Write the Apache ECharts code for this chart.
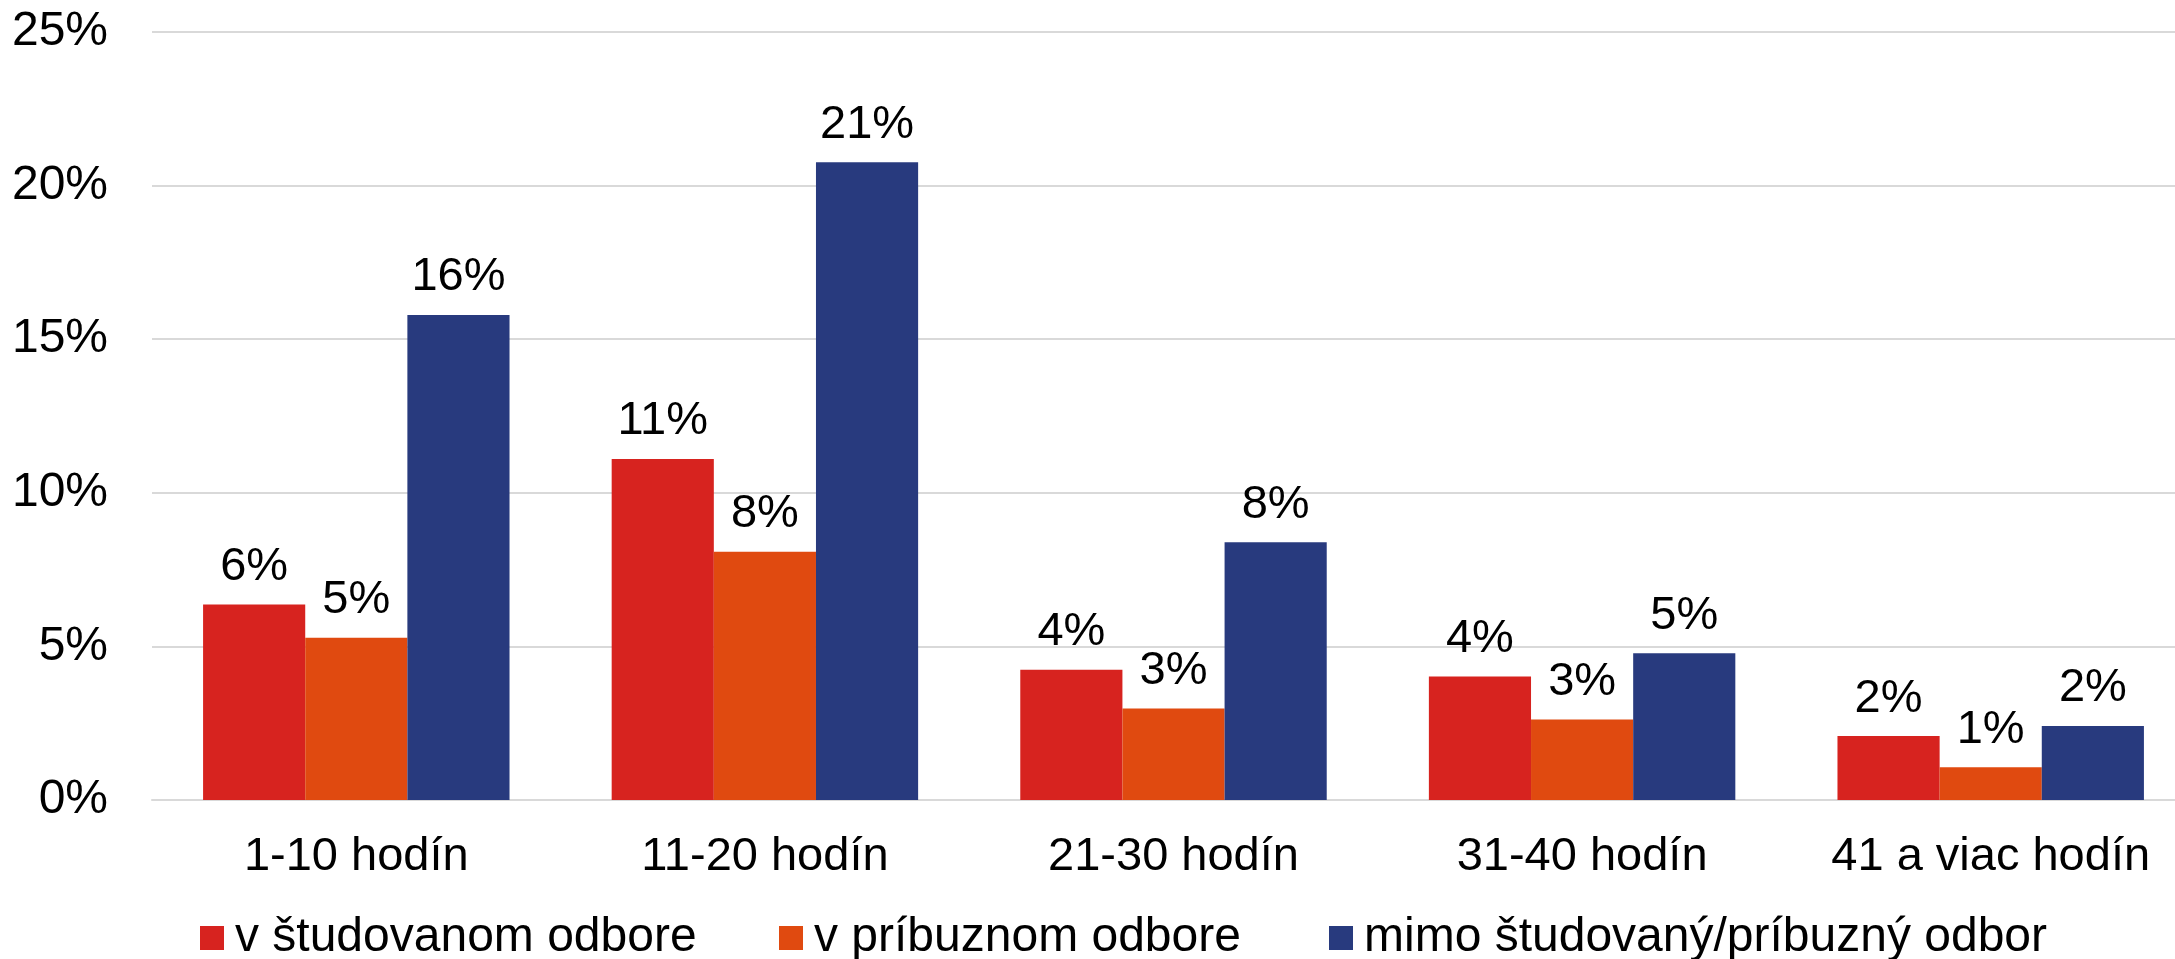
<!DOCTYPE html>
<html>
<head>
<meta charset="utf-8">
<script src="https://cdn.jsdelivr.net/npm/echarts@6/dist/echarts.min.js"></script>
<style>html,body{margin:0;padding:0;background:#fff}#c{width:2175px;height:959px}</style>
</head>
<body>
<div id="c"></div>
<script>
const categories = ['1-10 hodín', '11-20 hodín', '21-30 hodín', '31-40 hodín', '41 a viac hodín'];
const seriesNames = ['v študovanom odbore', 'v príbuznom odbore', 'mimo študovaný/príbuzný odbor'];
const studied = [6.36, 11.1, 4.24, 4.02, 2.08];
const related = [5.28, 8.08, 2.98, 2.62, 1.07];
const outside = [15.79, 20.76, 8.39, 4.78, 2.41];
const yTicks = [0, 5, 10, 15, 20, 25];
const colors = ['#D7231F', '#E04A10', '#283A7E'];

const font = 'Liberation Sans, Arial, sans-serif';
const chart = echarts.init(document.getElementById('c'));
const mk = (name, data, color) => ({
  name, type: 'bar', data, barGap: '0%', barCategoryGap: '25%',
  itemStyle: { color },
  label: { show: true, position: 'top', distance: 14, color: '#000', fontSize: 47, fontFamily: font,
    formatter: p => Math.round(p.value) + '%' }
});
const legendLefts = [195, 774, 1324];
chart.setOption({
  animation: false,
  textStyle: { fontFamily: font },
  grid: { left: 152, width: 2043, top: 32, bottom: 159, containLabel: false, outerBoundsMode: 'none' },
  legend: seriesNames.map((n, i) => ({
    left: legendLefts[i], top: 909, itemWidth: 24, itemHeight: 24,
    icon: 'rect',
    textStyle: { fontSize: 48, color: '#000', fontFamily: font, padding: [0, 0, 0, 6] },
    data: [n]
  })),
  xAxis: {
    type: 'category', data: categories,
    axisLine: { show: true, lineStyle: { color: '#D9D9D9', width: 2 } },
    axisTick: { show: false },
    axisLabel: { interval: 0, fontSize: 47, color: '#000', margin: 34, fontFamily: font }
  },
  yAxis: {
    type: 'value', min: yTicks[0], max: yTicks[yTicks.length - 1], interval: 5,
    axisLine: { show: false }, axisTick: { show: false },
    splitLine: { lineStyle: { color: '#D9D9D9', width: 2 } },
    axisLabel: { fontSize: 48, color: '#000', margin: 44, fontFamily: font, formatter: v => v + '%' }
  },
  series: [mk(seriesNames[0], studied, colors[0]), mk(seriesNames[1], related, colors[1]), mk(seriesNames[2], outside, colors[2])]
});
</script>
</body>
</html>
